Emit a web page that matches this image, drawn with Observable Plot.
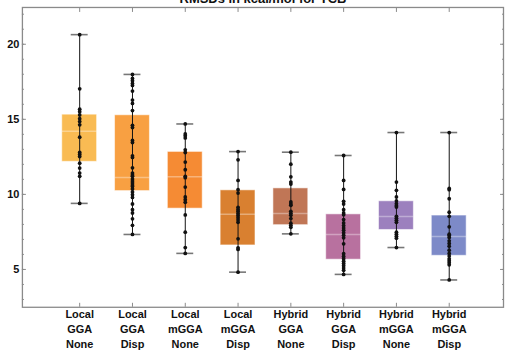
<!DOCTYPE html>
<html><head><meta charset="utf-8">
<script src="https://cdn.jsdelivr.net/npm/d3@7"></script>
<script src="https://cdn.jsdelivr.net/npm/@observablehq/plot@0.6"></script>
<style>html,body{margin:0;padding:0;overflow:hidden;background:#fff}</style>
</head><body><div id="chart"></div>
<script>
const family = ["Local","Local","Local","Local","Hybrid","Hybrid","Hybrid","Hybrid"];
const rung = ["GGA","GGA","mGGA","mGGA","GGA","GGA","mGGA","mGGA"];
const dispersion = ["None","Disp","None","Disp","None","Disp","None","Disp"];
const boxColors = ["#F9BB53","#F8A042","#F58B34","#D98030","#C07656","#B8719F","#9C80BE","#7D8AC8"];

const whiskerLow  = [9.40, 7.33, 6.07, 4.82, 7.37, 4.67, 6.46, 4.30];
const quartile1   = [12.17, 10.22, 9.05, 6.60, 7.95, 5.65, 7.63, 5.91];
const medianVal   = [14.20, 11.13, 11.17, 8.67, 8.72, 7.33, 8.52, 7.19];
const quartile3   = [15.31, 15.27, 12.83, 10.27, 10.40, 8.67, 9.54, 8.59];
const whiskerHigh = [20.64, 17.99, 14.69, 12.85, 12.81, 12.59, 14.12, 14.12];

const ptsLocalGGANone = [20.64, 17.03, 15.67, 15.51, 15.29, 15.04, 14.85, 14.63, 13.81, 12.79, 12.66, 12.52, 12.08, 11.75, 11.42, 11.20, 9.40];
const ptsLocalGGADisp = [17.99, 17.72, 17.57, 17.39, 17.26, 16.88, 16.28, 16.06, 15.58, 14.60, 14.45, 13.59, 13.45, 12.57, 12.46, 11.77, 11.42, 11.29, 11.20, 11.02, 10.89, 10.76, 10.62, 10.53, 10.36, 10.16, 9.98, 9.80, 9.36, 8.98, 8.76, 8.37, 7.94, 7.33];
const ptsLocalmGGANone = [14.69, 14.03, 13.90, 13.76, 12.97, 12.79, 12.15, 11.64, 11.20, 11.11, 10.49, 9.83, 9.65, 9.47, 8.63, 7.48, 6.46, 6.07];
const ptsLocalmGGADisp = [12.85, 12.30, 10.93, 10.31, 10.09, 9.14, 9.00, 8.87, 8.73, 8.60, 8.45, 8.30, 8.14, 7.04, 6.44, 6.33, 4.82];
const ptsHybridGGANone = [12.81, 12.01, 11.17, 10.82, 10.69, 9.50, 9.36, 9.27, 8.87, 8.74, 8.61, 8.39, 8.08, 7.94, 7.81, 7.37];
const ptsHybridGGADisp = [12.59, 10.93, 10.33, 9.54, 9.36, 8.98, 8.76, 8.65, 8.32, 8.10, 7.92, 7.76, 7.61, 7.44, 7.28, 7.11, 6.71, 6.05, 5.87, 5.71, 5.55, 5.40, 5.25, 5.09, 4.94, 4.67];
const ptsHybridmGGANone = [14.12, 10.82, 10.27, 9.83, 9.56, 9.38, 9.25, 9.16, 8.54, 8.41, 8.27, 8.14, 7.48, 7.35, 7.21, 7.08, 6.46];
const ptsHybridmGGADisp = [14.12, 10.40, 10.31, 9.71, 8.81, 8.54, 7.84, 7.35, 7.26, 7.13, 6.91, 6.73, 6.55, 6.28, 6.07, 5.89, 5.71, 5.58, 5.45, 5.31, 4.30];
const pointSets = [ptsLocalGGANone, ptsLocalGGADisp, ptsLocalmGGANone, ptsLocalmGGADisp, ptsHybridGGANone, ptsHybridGGADisp, ptsHybridmGGANone, ptsHybridmGGADisp];

const yMajorTicks = [5, 10, 15, 20];
const yMinorTicks = [3,4,5,6,7,8,9,10,11,12,13,14,15,16,17,18,19,20,21,22];
const titleText = "RMSDs in kcal/mol for TCB";

const labels = family.map((f, i) => `${f}\n${rung[i]}\n${dispersion[i]}`);
const stats = labels.map((m, i) => ({m, color: boxColors[i], lo: whiskerLow[i], q1: quartile1[i], med: medianVal[i], q3: quartile3[i], hi: whiskerHigh[i]}));
const points = pointSets.flatMap((arr, i) => arr.map(v => ({m: labels[i], v})));

const frameGrey = "#8a8a8a";
const chart = Plot.plot({
  width: 507, height: 352,
  marginLeft: 22, marginRight: 2, marginTop: 7, marginBottom: 44,
  style: {fontFamily: "'Liberation Sans', Arial, sans-serif", background: "#fff", overflow: "visible"},
  x: {type: "band", domain: labels, range: [51.7, 477.3], paddingInner: 0.348, paddingOuter: 0.174, label: null},
  y: {domain: [2.48, 22.45], label: null},
  color: {type: "identity"},
  marks: [
    Plot.barY(stats, {x: "m", y1: "q1", y2: "q3", fill: "color", stroke: "white", strokeOpacity: 0.55, strokeWidth: 1}),
    Plot.tickY(stats, {x: "m", y: "med", stroke: "white", strokeOpacity: 0.35, strokeWidth: 1.5}),
    Plot.ruleX(stats, {x: "m", y1: "lo", y2: "hi", stroke: "#111", strokeWidth: 1}),
    Plot.tickY(stats, {x: "m", y: "lo", stroke: "#777", strokeWidth: 1.6, inset: 9}),
    Plot.tickY(stats, {x: "m", y: "hi", stroke: "#777", strokeWidth: 1.6, inset: 9}),
    Plot.dot(points, {x: "m", y: "v", r: 1.9, fill: "#111"}),
    Plot.frame({stroke: frameGrey, strokeWidth: 1.3}),
    Plot.axisY({anchor: "left", ticks: yMajorTicks, tickSize: -4, fill: "none", stroke: frameGrey}),
    Plot.axisY({anchor: "left", ticks: yMinorTicks, tickSize: -2, fill: "none", stroke: frameGrey}),
    Plot.axisY({anchor: "right", ticks: yMajorTicks, tickSize: -4, fill: "none", stroke: frameGrey}),
    Plot.axisY({anchor: "right", ticks: yMinorTicks, tickSize: -2, fill: "none", stroke: frameGrey}),
    Plot.axisY({anchor: "left", ticks: yMajorTicks, tickSize: 0, tickPadding: 3, fontSize: 11, fontWeight: "bold", fill: "#111"}),
    Plot.axisX({anchor: "bottom", tickSize: -4, fill: "none", stroke: frameGrey}),
    Plot.axisX({anchor: "top", tickSize: -4, fill: "none", stroke: frameGrey}),
    Plot.axisX({anchor: "bottom", tickSize: 0, tickPadding: 0.5, fontSize: 11, fontWeight: "bold", lineHeight: 1.36, fill: "#111"}),
    Plot.text([titleText], {frameAnchor: "top", dy: -4.3, lineAnchor: "bottom", fontSize: 13, fontWeight: "bold", fill: "#111"})
  ]
});
document.getElementById("chart").appendChild(chart);
</script>
</body></html>
